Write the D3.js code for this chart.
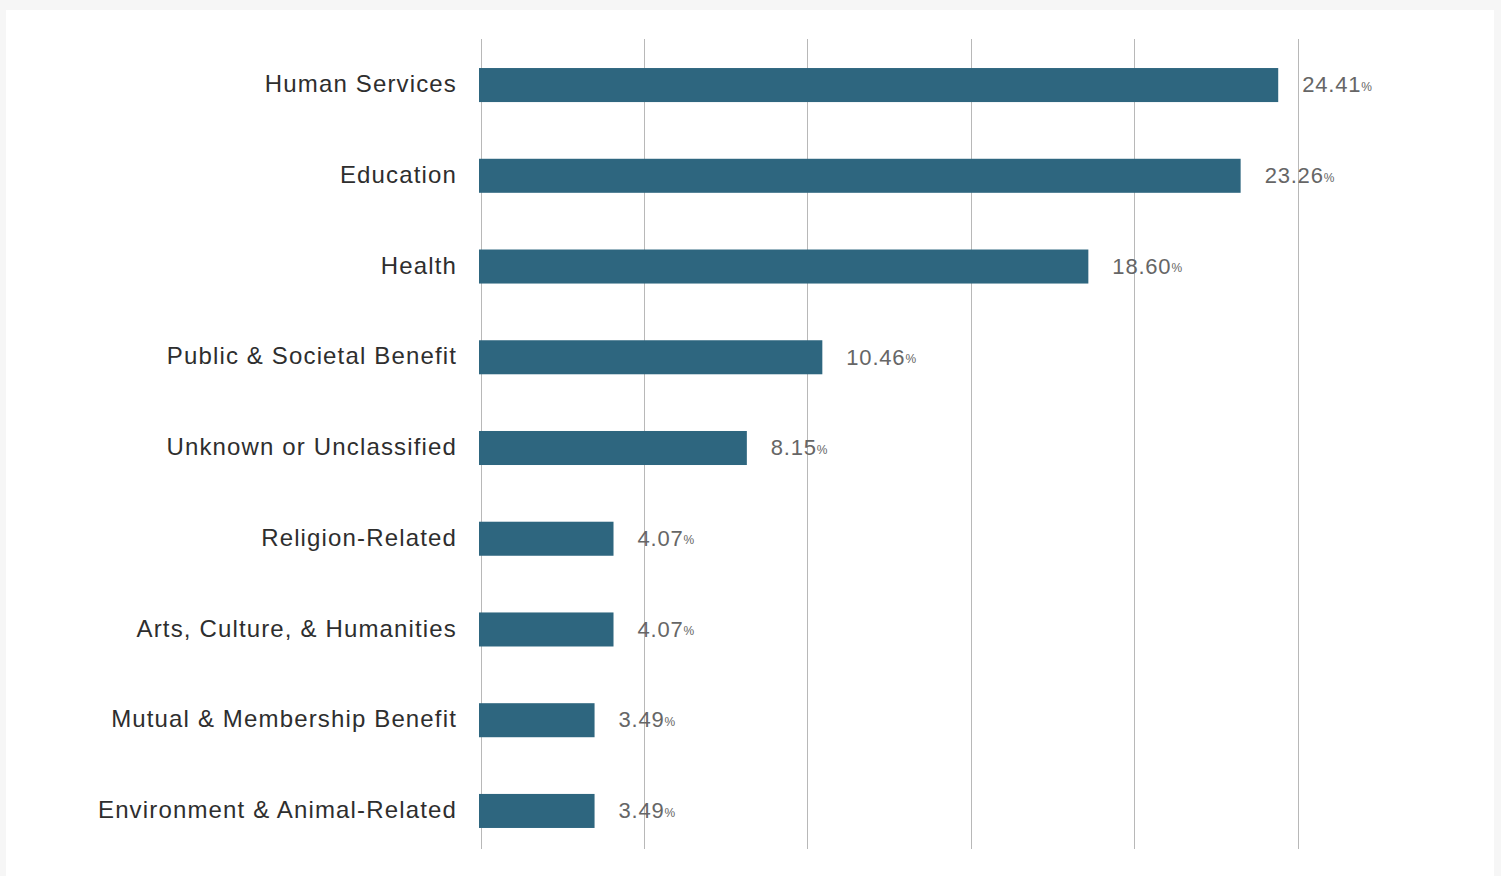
<!DOCTYPE html>
<html>
<head>
<meta charset="utf-8">
<script src="https://cdn.jsdelivr.net/npm/d3@7"></script>
<style>
  html, body { margin: 0; padding: 0; background: #f6f6f6; }
  #card { position: absolute; left: 6px; top: 10px; width: 1488px; height: 866px; background: #fff; }
  svg { position: absolute; left: 0; top: 0; }
  text { font-family: "Liberation Sans", Arial, Helvetica, sans-serif; }
</style>
</head>
<body>
<div id="card"></div>
<svg id="chart" width="1501" height="876"></svg>
<script>
// Share of organisations by sector (%)
const categories = [
  "Human Services",
  "Education",
  "Health",
  "Public & Societal Benefit",
  "Unknown or Unclassified",
  "Religion-Related",
  "Arts, Culture, & Humanities",
  "Mutual & Membership Benefit",
  "Environment & Animal-Related"
];
const values = [24.41, 23.26, 18.60, 10.46, 8.15, 4.07, 4.07, 3.49, 3.49];
const gridTicks = [0, 5, 10, 15, 20, 25];

const svg = d3.select("#chart");
const plot = { left: 480.5, right: 1297.5, top: 39, bottom: 849 };

const x = d3.scaleLinear().domain([0, 25]).range([plot.left, plot.right]);
const y = d3.scaleBand().domain(categories).range([plot.top, 857]).paddingInner(0.625).paddingOuter(0.32);

// vertical gridlines
svg.append("g")
  .selectAll("line")
  .data(gridTicks)
  .join("line")
  .attr("x1", d => Math.round(x(d)) + 0.5)
  .attr("x2", d => Math.round(x(d)) + 0.5)
  .attr("y1", plot.top)
  .attr("y2", plot.bottom)
  .attr("stroke", "#b8b8b8")
  .attr("stroke-width", 1);

// bars
svg.append("g")
  .selectAll("rect")
  .data(categories)
  .join("rect")
  .attr("x", x(0) - 1.5)
  .attr("y", d => y(d))
  .attr("width", (d, i) => x(values[i]) - x(0) + 1.5)
  .attr("height", y.bandwidth())
  .attr("fill", "#2e667f");

// category labels
svg.append("g")
  .selectAll("text")
  .data(categories)
  .join("text")
  .attr("x", 457)
  .attr("y", d => y(d) + y.bandwidth() / 2)
  .attr("dy", "0.3em")
  .attr("text-anchor", "end")
  .attr("font-size", 24)
  .attr("letter-spacing", "1.15px")
  .attr("fill", "#2e2e2e")
  .text(d => d);

// value labels
const vl = svg.append("g")
  .selectAll("text")
  .data(categories)
  .join("text")
  .attr("x", (d, i) => x(values[i]) + 24)
  .attr("y", d => y(d) + y.bandwidth() / 2)
  .attr("dy", "0.33em")
  .attr("font-size", 22)
  .attr("letter-spacing", "0.8px")
  .attr("fill", "#666");
vl.append("tspan").text((d, i) => values[i].toFixed(2));
vl.append("tspan").attr("font-size", 12).attr("letter-spacing", "0px").attr("dy", -1.5).text("%");
</script>
</body>
</html>
